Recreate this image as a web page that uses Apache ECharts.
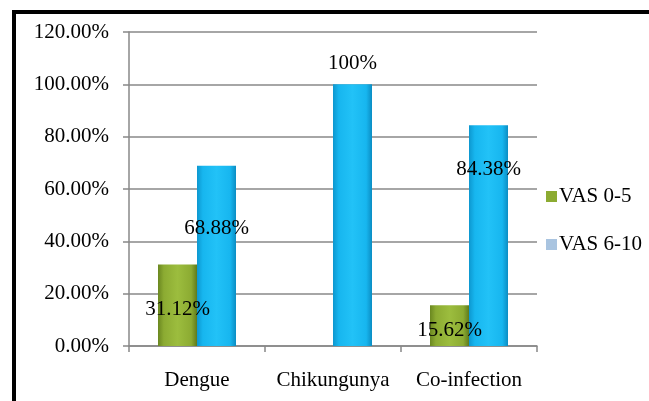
<!DOCTYPE html>
<html>
<head>
<meta charset="utf-8">
<script src="https://cdn.jsdelivr.net/npm/echarts@6/dist/echarts.min.js"></script>
<style>
  html, body { margin: 0; padding: 0; background: #fff; }
  #chart { width: 649px; height: 401px; }
  #frame {
    position: absolute; left: 12px; top: 10px; width: 700px; height: 450px;
    border-left: 4px solid #000; border-top: 4px solid #000; pointer-events: none;
  }
</style>
</head>
<body>
<div id="chart"></div>
<div id="frame"></div>
<script>
const categories = ["Dengue", "Chikungunya", "Co-infection"];
const vasLow = [31.12, 0, 15.62];
const vasHigh = [68.88, 100, 84.38];
const lowLabels = ["31.12%", "", "15.62%"];
const highLabels = ["68.88%", "100%", "84.38%"];
const yTicks = [0, 20, 40, 60, 80, 100, 120];

// where Excel dropped the data labels, relative to the bar top
const lowLabelDy = [45, 0, 25];
const highLabelDy = [63, -21, 44];

const font = "'Liberation Serif', 'Times New Roman', serif";

const greenFill = new echarts.graphic.LinearGradient(0, 0, 1, 0, [
  { offset: 0, color: "#6a8720" },
  { offset: 0.15, color: "#8cab32" },
  { offset: 0.5, color: "#9cbd3e" },
  { offset: 0.85, color: "#8cab32" },
  { offset: 1, color: "#5f7a1c" }
]);
const cyanFill = new echarts.graphic.LinearGradient(0, 0, 1, 0, [
  { offset: 0, color: "#0d97cf" },
  { offset: 0.15, color: "#17b6ef" },
  { offset: 0.5, color: "#22c2f7" },
  { offset: 0.85, color: "#17b6ef" },
  { offset: 1, color: "#0b8dc3" }
]);

function items(values, texts, dys) {
  return values.map((v, i) => ({
    value: v,
    label: {
      show: texts[i] !== "",
      formatter: texts[i],
      position: ["50%", dys[i]]
    }
  }));
}

const chart = echarts.init(document.getElementById("chart"));
chart.setOption({
  backgroundColor: "#fff",
  animation: false,
  grid: { left: 129, right: 112, top: 32, bottom: 55 },
  legend: {
    orient: "vertical",
    left: 541,
    top: 181,
    itemWidth: 11,
    itemHeight: 11,
    itemGap: 27,
    icon: "rect",
    textStyle: { fontFamily: font, fontSize: 21, color: "#000", padding: [0, 0, 0, -3] },
    data: [
      { name: "VAS 0-5", itemStyle: { color: "#8cab32" } },
      { name: "VAS 6-10", itemStyle: { color: "#a9c4e0" } }
    ]
  },
  xAxis: {
    type: "category",
    data: categories,
    axisLine: { lineStyle: { color: "#888", width: 1.5 } },
    axisTick: { show: true, length: 6, lineStyle: { color: "#888", width: 1.5 } },
    axisLabel: { interval: 0, fontFamily: font, fontSize: 21, color: "#000", margin: 24 }
  },
  yAxis: {
    type: "value",
    min: 0,
    max: 120,
    interval: 20,
    axisLine: { show: true, lineStyle: { color: "#888", width: 1.5 } },
    axisTick: { show: true, length: 6, lineStyle: { color: "#888", width: 1.5 } },
    splitLine: { lineStyle: { color: "#888", width: 1.5 } },
    axisLabel: {
      fontFamily: font, fontSize: 21, color: "#000", margin: 20,
      formatter: v => yTicks.includes(v) ? v.toFixed(2) + "%" : ""
    }
  },
  series: [
    {
      name: "VAS 0-5",
      type: "bar",
      barWidth: 39,
      barGap: "0%",
      itemStyle: { color: greenFill },
      label: {
        fontFamily: font, fontSize: 21, color: "#000",
        align: "center", verticalAlign: "middle"
      },
      data: items(vasLow, lowLabels, lowLabelDy)
    },
    {
      name: "VAS 6-10",
      type: "bar",
      barWidth: 39,
      itemStyle: { color: cyanFill },
      label: {
        fontFamily: font, fontSize: 21, color: "#000",
        align: "center", verticalAlign: "middle"
      },
      data: items(vasHigh, highLabels, highLabelDy)
    }
  ]
});
</script>
</body>
</html>
